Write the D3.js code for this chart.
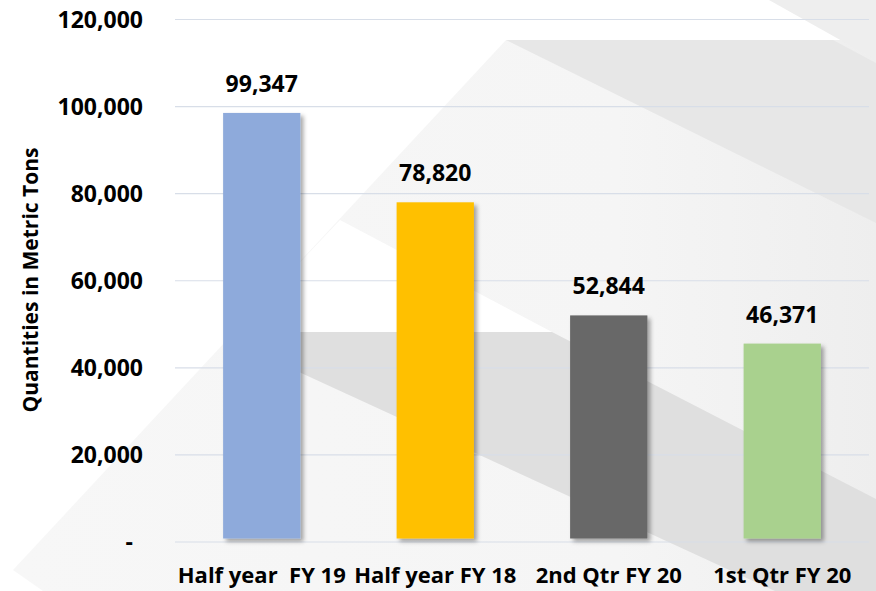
<!DOCTYPE html>
<html>
<head>
<meta charset="utf-8">
<script src="https://cdn.jsdelivr.net/npm/d3@7"></script>
<style>
  html, body { margin: 0; padding: 0; background: #fff; }
  svg { display: block; }
  .tick text { font-family: "Open Sans", sans-serif; font-weight: 700; fill: #000; }
</style>
</head>
<body>
<div id="chart"></div>
<script>
var categories = ["Half year  FY 19", "Half year FY 18", "2nd Qtr FY 20", "1st Qtr FY 20"];
var values = [99347, 78820, 52844, 46371];
var barColors = ["#8eaadb", "#ffc000", "#676767", "#a9d18e"];
var yTicks = [0, 20000, 40000, 60000, 80000, 100000, 120000];
var yTitle = "Quantities in Metric Tons";

var width = 876, height = 591;
var margin = {top: 19, right: 7, bottom: 49.5, left: 175};

var svg = d3.select("#chart").append("svg")
    .attr("width", width)
    .attr("height", height);

var defs = svg.append("defs");
defs.append("filter").attr("id", "shadow")
    .attr("x", "-20%").attr("y", "-10%").attr("width", "140%").attr("height", "120%")
  .append("feDropShadow")
    .attr("dx", 3).attr("dy", 3).attr("stdDeviation", 2)
    .attr("flood-color", "#000").attr("flood-opacity", 0.35);

var bgGrad = defs.append("linearGradient").attr("id", "bg-grad")
    .attr("x1", "0%").attr("y1", "0%").attr("x2", "100%").attr("y2", "0%");
bgGrad.append("stop").attr("offset", "0%").attr("stop-color", "#f7f7f7");
bgGrad.append("stop").attr("offset", "70%").attr("stop-color", "#f5f5f5");
bgGrad.append("stop").attr("offset", "100%").attr("stop-color", "#eeeeee");

// template background shapes
var bg = svg.append("g").attr("class", "background");
var shapes = [
  {fill: "url(#bg-grad)", pts: [[13, 570], [506, 40], [876, 40], [876, 591], [43, 591]]},
  {fill: "#ffffff", pts: [[340, 220], [552, 332], [234, 332]]},
  {fill: "#dfdfdf", pts: [[262, 332], [552, 332], [876, 499], [876, 591], [775, 591], [262, 355]]},
  {fill: "#e7e7e7", pts: [[506, 40], [833, 40], [876, 63], [876, 223]]},
  {fill: "#eeeeee", pts: [[769, 0], [876, 0], [876, 60]]}
];
bg.selectAll("polygon")
  .data(shapes)
  .enter().append("polygon")
    .attr("points", function(d) { return d.pts.map(function(p) { return p.join(","); }).join(" "); })
    .attr("fill", function(d) { return d.fill; });

var x = d3.scaleBand()
    .domain(categories)
    .range([margin.left, width - margin.right])
    .paddingInner(0.52)
    .paddingOuter(0.26);

var y = d3.scaleLinear()
    .domain([0, 120000])
    .range([height - margin.bottom, margin.top]);

// gridlines + y axis
var yAxis = d3.axisLeft(y)
    .tickValues(yTicks)
    .tickSize(-(width - margin.left - margin.right))
    .tickPadding(32)
    .tickFormat(function(d) { return d === 0 ? "-" : d3.format(",")(d); });

var gy = svg.append("g")
    .attr("transform", "translate(" + margin.left + ",0)")
    .call(yAxis);
gy.select(".domain").remove();
gy.selectAll(".tick line").attr("stroke", "#d8dee8").attr("stroke-width", 1.2);
gy.selectAll(".tick text")
    .style("font-size", "23px")
    .attr("dy", "0.36em")
    .attr("dx", function(d) { return d === 0 ? -10 : 0; });

// bars
svg.append("g").selectAll("rect")
  .data(values)
  .enter().append("rect")
    .attr("x", function(d, i) { return x(categories[i]) + 3; })
    .attr("y", function(d) { return y(d) + 4; })
    .attr("width", x.bandwidth() - 6)
    .attr("height", function(d) { return y(0) - y(d) - 7; })
    .attr("fill", function(d, i) { return barColors[i]; })
    .attr("filter", "url(#shadow)");

// value labels
svg.append("g").selectAll("text")
  .data(values)
  .enter().append("text")
    .attr("x", function(d, i) { return x(categories[i]) + x.bandwidth() / 2; })
    .attr("y", function(d) { return y(d) - 17; })
    .attr("text-anchor", "middle")
    .style("font-family", "'Open Sans', sans-serif")
    .style("font-weight", 700)
    .style("font-size", "23px")
    .text(function(d) { return d3.format(",")(d); });

// category labels
svg.append("g").selectAll("text")
  .data(categories)
  .enter().append("text")
    .attr("x", function(d) { return x(d) + x.bandwidth() / 2; })
    .attr("y", 583)
    .attr("text-anchor", "middle")
    .attr("xml:space", "preserve")
    .style("white-space", "pre")
    .style("font-family", "'Open Sans', sans-serif")
    .style("font-weight", 700)
    .style("font-size", "22px")
    .text(function(d) { return d; });

// y axis title
svg.append("text")
    .attr("transform", "translate(38," + 280 + ") rotate(-90)")
    .attr("text-anchor", "middle")
    .style("font-family", "'Open Sans', sans-serif")
    .style("font-weight", 700)
    .style("font-size", "21px")
    .text(yTitle);
</script>
</body>
</html>
